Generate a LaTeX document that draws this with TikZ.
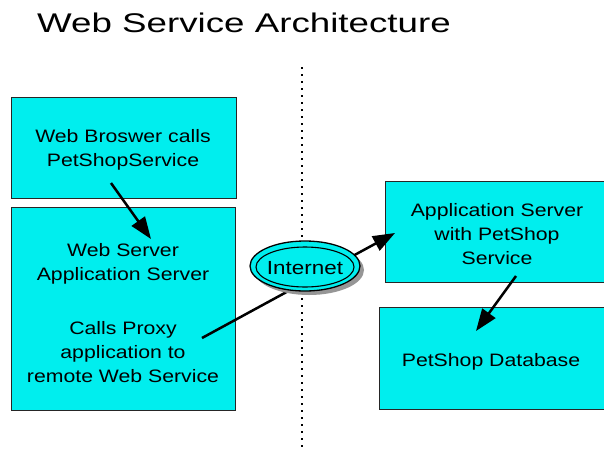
\documentclass[tikz,border=0pt]{standalone}
\usepackage{fontspec}
\usetikzlibrary{arrows.meta}
\newfontfamily\boxfont[FakeStretch=1.18]{Liberation Sans}
\newfontfamily\titlefont[FakeStretch=1.36]{Liberation Sans}
\definecolor{boxcyan}{RGB}{0,238,238}
\definecolor{shadowgray}{RGB}{150,150,150}
\tikzset{
  panel/.style={draw=black!85, line width=1pt, fill=boxcyan, rectangle, inner sep=0pt, anchor=north west},
  label/.style={font=\boxfont\fontsize{18pt}{24pt}\selectfont, align=center, inner sep=0pt, text=black},
  flow/.style={line width=2.5pt, -{Triangle[length=22pt,width=16pt]}},
}
\begin{document}
\begin{tikzpicture}[x=1pt,y=-1pt]
\useasboundingbox (0,0) rectangle (604,450);
\fill[white] (0,0) rectangle (604,450);
% title
\node[font=\titlefont\fontsize{27pt}{32pt}\selectfont, inner sep=0pt] (title) at (244,23) {Web Service Architecture};
% divider
\draw[line width=2.5pt, dash pattern=on 2pt off 5pt] (302,67) -- (302,450);
% boxes
\node[panel, minimum width=225pt, minimum height=101pt] (browser) at (11,97) {};
\node[panel, minimum width=224pt, minimum height=203pt] (webserver) at (11,207) {};
\node[panel, minimum width=219pt, minimum height=101pt] (appserver) at (385,181) {};
\node[panel, minimum width=225pt, minimum height=102pt] (db) at (379,307) {};
% texts
\node[label] (t1) at (123,150) {Web Broswer calls\\PetShopService};
\node[label] (t2) at (123,264) {Web Server\\Application Server};
\node[label] (t3) at (123,352) {Calls Proxy\\application to\\remote Web Service};
\node[label] (t4) at (497,234) {Application Server\\with PetShop\\Service};
\node[label] (t5) at (491,362) {PetShop Database};
% arrow endpoints
\coordinate (a1s) at (111,183);
\coordinate (a1e) at (151,239);
\coordinate (a2s) at (202,338);
\coordinate (a2e) at (395,233);
\coordinate (a3s) at (516,276);
\coordinate (a3e) at (476,331);
\draw[flow] (a1s) -- (a1e);
\draw[flow] (a2s) -- (a2e);
\draw[flow] (a3s) -- (a3e);
% internet ellipse
\fill[shadowgray] (309,270) ellipse [x radius=55pt, y radius=25pt];
\draw[line width=1.3pt, fill=boxcyan] (305,266) ellipse [x radius=55pt, y radius=25pt];
\draw[line width=1.1pt] (305,267) ellipse [x radius=49pt, y radius=20pt];
\node[label, font=\boxfont\fontsize{19pt}{24pt}\selectfont] (internet) at (305,268) {Internet};
\end{tikzpicture}
\end{document}
